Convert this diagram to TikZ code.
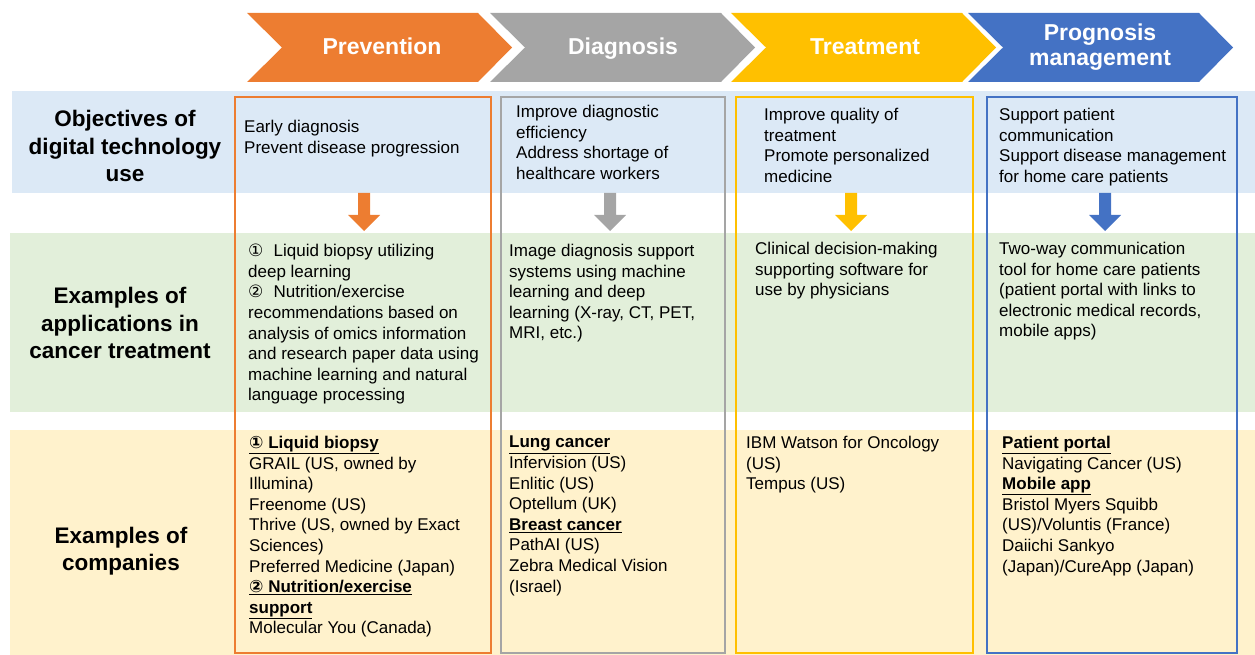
\documentclass[tikz,border=0pt]{standalone}
\usepackage{fontspec}
\setmainfont{Liberation Sans}
\newfontfamily\circfont{DejaVu Sans}
\usetikzlibrary{positioning}

\definecolor{prevorange}{HTML}{ED7D31}
\definecolor{diaggray}{HTML}{A5A5A5}
\definecolor{treatyellow}{HTML}{FFC000}
\definecolor{progblue}{HTML}{4472C4}
\definecolor{objband}{HTML}{DCE9F6}
\definecolor{appband}{HTML}{E2EFDA}
\definecolor{compband}{HTML}{FFF2CC}

\newcommand{\circnum}[1]{{\circfont #1}}

\begin{document}
\begin{tikzpicture}[
    x=1pt, y=-1pt,
    colbox/.style={draw=#1, line width=1.4pt},
    phasetext/.style={text=white, align=center, font=\bfseries\fontsize{23}{25}\selectfont},
    rowlabel/.style={align=center, font=\bfseries\fontsize{22.5}{27.5}\selectfont},
    celltext/.style={anchor=north west, align=left, inner sep=0pt, font=\fontsize{17}{20.6}\selectfont}
]
\useasboundingbox (0,0) rectangle (1255,655);

% row bands
\fill[objband] (12,91) rectangle (1255,193);
\fill[appband] (10,233) rectangle (1255,412);
\fill[compband] (10,430) rectangle (1255,655);

% phase chevrons
\foreach \x/\col in {247/prevorange, 490/diaggray, 731/treatyellow, 968/progblue}
  \fill[\col] (\x,13) -- ++(231,0) -- ++(34,34.5) -- ++(-34,34.5) -- ++(-231,0) -- ++(35,-34.5) -- cycle;
\node[phasetext, anchor=base] (prevhead) at (382,55) {Prevention};
\node[phasetext, anchor=base] (diaghead) at (623,55) {Diagnosis};
\node[phasetext, anchor=base] (treathead) at (865,55) {Treatment};
\node[phasetext] (proghead) at (1100,47) {Prognosis\\management};

% column frames
\draw[colbox=prevorange] (235,97) rectangle (491,653);
\draw[colbox=diaggray] (501,97) rectangle (725,653);
\draw[colbox=treatyellow] (736,97) rectangle (973,653);
\draw[colbox=progblue] (987,97) rectangle (1237,653);

% block arrows
\foreach \x/\col in {364/prevorange, 610/diaggray, 851/treatyellow, 1105/progblue}
  \fill[\col] (\x-6,193) -- (\x+6,193) -- (\x+6,215) -- (\x+16,215) -- (\x,231)
    -- (\x-16,215) -- (\x-6,215) -- cycle;

% row labels
\node[rowlabel] (objlabel) at (125,146) {Objectives of\\digital technology\\use};
\node[rowlabel] (applabel) at (120,323) {Examples of\\applications in\\cancer treatment};
\node[rowlabel] (complabel) at (121,551) {Examples of\\companies};

% objectives
\node[celltext] (objprev) at (244,120) {Early diagnosis\\Prevent disease progression};
\node[celltext] (objdiag) at (516,105) {Improve diagnostic\\efficiency\\Address shortage of\\healthcare workers};
\node[celltext] (objtreat) at (764,108) {Improve quality of\\treatment\\Promote personalized\\medicine};
\node[celltext] (objprog) at (999,108) {Support patient\\communication\\Support disease management\\for home care patients};

% applications
\node[celltext] (appprev) at (248,244) {\circnum{①}\hspace{0.6em}Liquid biopsy utilizing\\deep learning\\\circnum{②}\hspace{0.6em}Nutrition/exercise\\recommendations based on\\analysis of omics information\\and research paper data using\\machine learning and natural\\language processing};
\node[celltext] (appdiag) at (509,244) {Image diagnosis support\\systems using machine\\learning and deep\\learning (X-ray, CT, PET,\\MRI, etc.)};
\node[celltext] (apptreat) at (755,242) {Clinical decision-making\\supporting software for\\use by physicians};
\node[celltext] (appprog) at (999,242) {Two-way communication\\tool for home care patients\\(patient portal with links to\\electronic medical records,\\mobile apps)};

% companies
\node[celltext] (compprev) at (249,436) {\underline{\textbf{\circnum{①} Liquid biopsy}}\\GRAIL (US, owned by\\Illumina)\\Freenome (US)\\Thrive (US, owned by Exact\\Sciences)\\Preferred Medicine (Japan)\\\underline{\textbf{\circnum{②} Nutrition/exercise}}\\\underline{\textbf{support}}\\Molecular You (Canada)};
\node[celltext] (compdiag) at (509,436) {\underline{\textbf{Lung cancer}}\\Infervision (US)\\Enlitic (US)\\Optellum (UK)\\\underline{\textbf{Breast cancer}}\\PathAI (US)\\Zebra Medical Vision\\(Israel)};
\node[celltext] (comptreat) at (746,436) {IBM Watson for Oncology\\(US)\\Tempus (US)};
\node[celltext] (compprog) at (1002,436) {\underline{\textbf{Patient portal}}\\Navigating Cancer (US)\\\underline{\textbf{Mobile app}}\\Bristol Myers Squibb\\(US)/Voluntis (France)\\Daiichi Sankyo\\(Japan)/CureApp (Japan)};
\end{tikzpicture}
\end{document}
